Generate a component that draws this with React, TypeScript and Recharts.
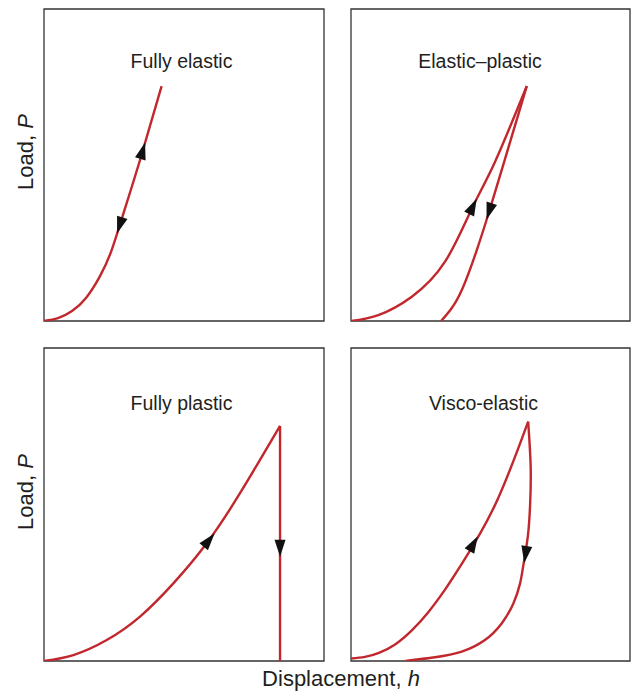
import { ComposedChart, Line, Scatter, XAxis, YAxis, ReferenceArea } from 'recharts';

type Pt = { x: number; y: number };

// every panel runs 0..100 on both axes (arbitrary units of h and P)

// fully elastic: loading and unloading share one path
const elasticLoad: Pt[] = [
    { x: 0, y: 0 }, { x: 5, y: 0.9 }, { x: 10, y: 3.2 }, { x: 15, y: 7.4 },
    { x: 20, y: 14.4 }, { x: 24, y: 22.3 }, { x: 28, y: 33.4 },
    { x: 34.3, y: 51.6 }, { x: 42.0, y: 75.3 },
];
const elasticUnload: Pt[] = [...elasticLoad].reverse();

// elastic-plastic: unloading ends with a residual depth
const elPlLoad: Pt[] = [
    { x: 0, y: 0 }, { x: 9.8, y: 1.9 }, { x: 21.8, y: 7.8 }, { x: 33.7, y: 19.0 },
    { x: 43.3, y: 36.0 }, { x: 51.6, y: 51.0 }, { x: 63.0, y: 75.3 },
];
const elPlUnload: Pt[] = [
    { x: 63.0, y: 75.3 }, { x: 55.0, y: 51.3 }, { x: 49.8, y: 35.9 },
    { x: 45.0, y: 22.5 }, { x: 40.0, y: 10.5 }, { x: 36.0, y: 4.0 }, { x: 32.3, y: 0 },
];

// fully plastic: no elastic recovery on unloading
const plasticLoad: Pt[] = [
    { x: 0, y: 0 }, { x: 10.5, y: 1.9 }, { x: 22.4, y: 6.7 }, { x: 34.3, y: 14.2 },
    { x: 46.2, y: 24.8 }, { x: 58.1, y: 37.6 }, { x: 70.0, y: 53.6 }, { x: 84.3, y: 75.1 },
];
const plasticUnload: Pt[] = [{ x: 84.3, y: 75.1 }, { x: 84.3, y: 0 }];

// visco-elastic: creep at peak load, then recovery
const viscoLoad: Pt[] = [
    { x: 0, y: 0.8 }, { x: 5, y: 1.3 }, { x: 10, y: 2.6 }, { x: 15.8, y: 5.3 },
    { x: 21.8, y: 9.8 }, { x: 27.7, y: 15.6 }, { x: 33.7, y: 22.8 },
    { x: 39.7, y: 31.0 }, { x: 51.6, y: 49.8 }, { x: 63.5, y: 76.5 },
];
const viscoUnload: Pt[] = [
    { x: 63.5, y: 76.5 }, { x: 64.4, y: 62.0 }, { x: 64.2, y: 50.0 }, { x: 63.4, y: 40.0 },
    { x: 61.8, y: 30.7 }, { x: 60.6, y: 24.8 }, { x: 58.2, y: 18.4 }, { x: 54.0, y: 12.0 },
    { x: 48.0, y: 6.7 }, { x: 39.7, y: 3.0 }, { x: 30.1, y: 1.2 }, { x: 19.5, y: 0 },
];

const titles = ['Fully elastic', 'Elastic\u2013plastic', 'Fully plastic', 'Visco-elastic'];

const RED = '#c1272d';
const INK = '#231f20';

// direction of travel at a point, taken from the nearest segment of its path
function withDir(at: Pt, path: Pt[]) {
    let best = 0;
    let bestD = Infinity;
    for (let i = 0; i < path.length - 1; i++) {
        const mx = (path[i].x + path[i + 1].x) / 2;
        const my = (path[i].y + path[i + 1].y) / 2;
        const d = (mx - at.x) ** 2 + (my - at.y) ** 2;
        if (d < bestD) { bestD = d; best = i; }
    }
    return { x: at.x, y: at.y, tx: path[best + 1].x - path[best].x, ty: path[best + 1].y - path[best].y };
}

interface PanelProps {
    left: number;
    top: number;
    width: number;
    height: number;
    curves: Pt[][];
    arrows: { at: Pt; path: Pt[] }[];
}

const Panel = ({ left, top, width, height, curves, arrows }: PanelProps) => {
    const sx = width / 100;
    const sy = height / 100;
    const arrowData = arrows.map((a) => withDir(a.at, a.path));

    const ArrowHead = (props: any) => {
        const { cx, cy, payload } = props;
        const ang = (Math.atan2(-payload.ty * sy, payload.tx * sx) * 180) / Math.PI;
        return (
            <polygon
                points="11,0 -6,-5.5 -6,5.5"
                fill="#111"
                transform={`translate(${cx},${cy}) rotate(${ang})`}
            />
        );
    };

    return (
        <div style={{ position: 'absolute', left: left - 2, top: top - 2 }}>
            <ComposedChart width={width + 4} height={height + 4} margin={{ top: 2, right: 2, bottom: 2, left: 2 }}>
                <XAxis dataKey="x" type="number" domain={[0, 100]} allowDataOverflow hide />
                <YAxis type="number" domain={[0, 100]} allowDataOverflow hide />
                <ReferenceArea x1={0} x2={100} y1={0} y2={100} fill="none" fillOpacity={0} stroke="#333" strokeWidth={1.3} />
                {curves.map((c, i) => (
                    <Line
                        key={i}
                        data={c}
                        dataKey="y"
                        type={c.length > 2 ? 'natural' : 'linear'}
                        stroke={RED}
                        strokeWidth={2.4}
                        dot={false}
                        activeDot={false}
                        isAnimationActive={false}
                    />
                ))}
                <Scatter data={arrowData} dataKey="y" shape={ArrowHead} isAnimationActive={false} />
            </ComposedChart>
        </div>
    );
};

const App = () => {
    return (
        <div style={{ position: 'absolute', left: 0, top: 0, width: 631, height: 691, background: '#fff' }}>
            <Panel
                left={44} top={9} width={280} height={312}
                curves={[elasticLoad]}
                arrows={[{ at: { x: 35.0, y: 53.8 }, path: elasticLoad }, { at: { x: 27.3, y: 31.4 }, path: elasticUnload }]}
            />
            <Panel
                left={351} top={9} width={279} height={312}
                curves={[elPlLoad, elPlUnload]}
                arrows={[{ at: { x: 43.3, y: 36.0 }, path: elPlLoad }, { at: { x: 49.8, y: 35.9 }, path: elPlUnload }]}
            />
            <Panel
                left={44} top={348} width={280} height={313}
                curves={[plasticLoad, plasticUnload]}
                arrows={[{ at: { x: 58.4, y: 38.0 }, path: plasticLoad }, { at: { x: 84.3, y: 36.8 }, path: plasticUnload }]}
            />
            <Panel
                left={351} top={348} width={279} height={313}
                curves={[viscoLoad, viscoUnload]}
                arrows={[{ at: { x: 43.5, y: 36.8 }, path: viscoLoad }, { at: { x: 62.7, y: 34.8 }, path: viscoUnload }]}
            />
            <svg
                width={631}
                height={691}
                style={{ position: 'absolute', left: 0, top: 0, pointerEvents: 'none' }}
                fontFamily="'Liberation Sans', Arial, sans-serif"
                fill={INK}
            >
                <text x={181.5} y={68} fontSize={19.5} textAnchor="middle">{titles[0]}</text>
                <text x={480} y={68} fontSize={19.5} textAnchor="middle">{titles[1]}</text>
                <text x={181.5} y={410} fontSize={19.5} textAnchor="middle">{titles[2]}</text>
                <text x={483.5} y={410} fontSize={19.5} textAnchor="middle">{titles[3]}</text>
                <text transform="translate(33,152) rotate(-90)" fontSize={22} textAnchor="middle">
                    Load, <tspan fontStyle="italic">P</tspan>
                </text>
                <text transform="translate(33,492) rotate(-90)" fontSize={22} textAnchor="middle">
                    Load, <tspan fontStyle="italic">P</tspan>
                </text>
                <text x={341} y={686} fontSize={22} textAnchor="middle">
                    Displacement, <tspan fontStyle="italic">h</tspan>
                </text>
            </svg>
        </div>
    );
};

export default App;
